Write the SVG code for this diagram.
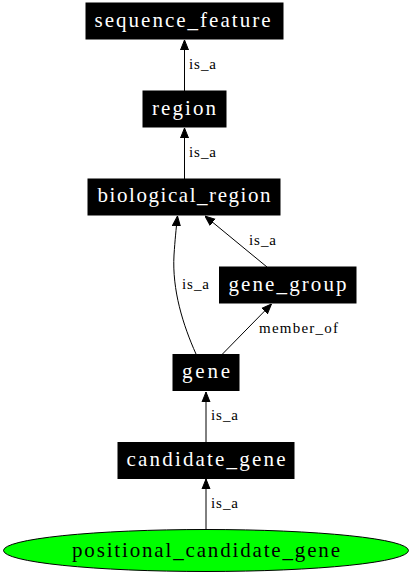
<svg xmlns="http://www.w3.org/2000/svg" width="413" height="576" viewBox="0 0 413 576">
<style>
.box{fill:#000;stroke:#000}
.nt{font-family:'Liberation Serif','Times New Roman',Times,serif;font-size:21px;fill:#fff;text-anchor:middle}
.el{font-family:'Liberation Serif','Times New Roman',Times,serif;font-size:15px;fill:#000}
.e{fill:none;stroke:#000;stroke-width:1}
</style>
<defs>
<marker id="ah" markerWidth="10" markerHeight="10" refX="10" refY="5" orient="auto" markerUnits="userSpaceOnUse" viewBox="0 0 10 10">
<path d="M0,1 L10,5 L0,9 Z" fill="#000" stroke="#000"/>
</marker>
</defs>
<rect width="413" height="576" fill="#fff"/>
<g id="connectors">
<path class="e" d="M184.5,91 L184.5,40" marker-end="url(#ah)"/>
<text class="el" x="189" y="69" textLength="27" lengthAdjust="spacing">is_a</text>
<path class="e" d="M184.5,179 L184.5,128" marker-end="url(#ah)"/>
<text class="el" x="189" y="157" textLength="27" lengthAdjust="spacing">is_a</text>
<path class="e" d="M196,354 C183,325 172,290 174,255 C175,240 176,230 177.5,216" marker-end="url(#ah)"/>
<text class="el" x="182" y="289" textLength="27" lengthAdjust="spacing">is_a</text>
<path class="e" d="M267,267 L205,216" marker-end="url(#ah)"/>
<text class="el" x="249" y="245" textLength="27" lengthAdjust="spacing">is_a</text>
<path class="e" d="M222.5,354 L271.5,304" marker-end="url(#ah)"/>
<text class="el" x="259" y="333" textLength="79" lengthAdjust="spacing">member_of</text>
<path class="e" d="M206,442 L206,392" marker-end="url(#ah)"/>
<text class="el" x="211" y="420" textLength="27" lengthAdjust="spacing">is_a</text>
<path class="e" d="M206,530 L206,479" marker-end="url(#ah)"/>
<text class="el" x="211" y="508" textLength="27" lengthAdjust="spacing">is_a</text>
</g>
<g id="sequence_feature">
<rect class="box" x="86" y="3" width="197" height="36"/>
<text class="nt" x="182.5" y="27" textLength="176" lengthAdjust="spacing">sequence_feature</text>
</g>
<g id="region">
<rect class="box" x="143" y="91" width="83" height="36"/>
<text class="nt" x="184" y="114.5" textLength="64" lengthAdjust="spacing">region</text>
</g>
<g id="biological_region">
<rect class="box" x="88" y="179" width="192" height="36"/>
<text class="nt" x="184" y="202" textLength="173" lengthAdjust="spacing">biological_region</text>
</g>
<g id="gene_group">
<rect class="box" x="219.5" y="267" width="136.5" height="36"/>
<text class="nt" x="287.5" y="290.5" textLength="118" lengthAdjust="spacing">gene_group</text>
</g>
<g id="gene">
<rect class="box" x="173" y="354.5" width="66" height="36"/>
<text class="nt" x="206" y="378" textLength="48" lengthAdjust="spacing">gene</text>
</g>
<g id="candidate_gene">
<rect class="box" x="118" y="442.5" width="176" height="36"/>
<text class="nt" x="206" y="466" textLength="159" lengthAdjust="spacing">candidate_gene</text>
</g>
<g id="positional_candidate_gene">
<ellipse cx="206" cy="550.5" rx="202.5" ry="21" fill="#00ff00" stroke="#000"/>
<text class="nt" x="206" y="556.5" style="fill:#000" textLength="268" lengthAdjust="spacing">positional_candidate_gene</text>
</g>
</svg>
